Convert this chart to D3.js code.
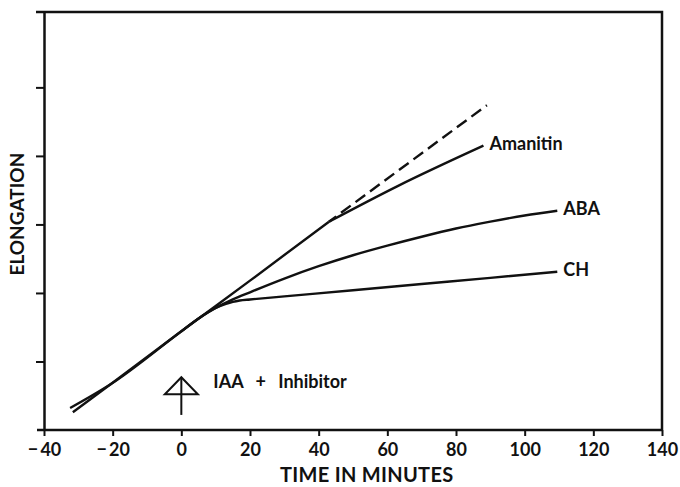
<!DOCTYPE html>
<html>
<head>
<meta charset="utf-8">
<script src="https://cdn.jsdelivr.net/npm/d3@7"></script>
<style>
  body { margin: 0; background: #fff; }
  text { font-family: Lato, "DejaVu Sans", sans-serif; font-weight: bold; fill: #111; }
</style>
</head>
<body>
<div id="chart"></div>
<script>
// Axis names
var xAxisName = "TIME IN MINUTES";
var yAxisName = "ELONGATION";

// Tick values
var xTicks = [-40, -20, 0, 20, 40, 60, 80, 100, 120, 140];
var yTicks = [0, 1, 2, 3, 4, 5];

// Control trace (straight line) and its dashed extrapolation
var controlTime = [-32.4, -20.5, 0, 20, 43];
var controlValue = [0.32, 0.67, 1.44, 2.18, 3.04];
var extrapTime = [43, 89];
var extrapValue = [3.04, 4.74];

// Second pre-treatment trace (merges with control)
var pretreatTime = [-31.6, -20.5, 0];
var pretreatValue = [0.26, 0.67, 1.44];

// Inhibitor curves
var amanitinTime = [43, 63, 88];
var amanitinValue = [3.04, 3.56, 4.15];

var abaTime = [0, 6, 10, 15, 20, 30, 40, 50, 60, 70, 80, 90, 100, 109.5];
var abaValue = [1.44, 1.66, 1.78, 1.905, 2.01, 2.21, 2.39, 2.55, 2.69, 2.82, 2.94, 3.04, 3.13, 3.20];

var chTime = [0, 6, 10, 13, 15, 17, 20, 30, 50, 70, 90, 109.5];
var chValue = [1.44, 1.66, 1.78, 1.84, 1.87, 1.89, 1.905, 1.95, 2.04, 2.13, 2.22, 2.31];

var curveNames = ["Amanitin", "ABA", "CH"];

// Treatment arrow at time 0
var arrowTime = 0;
var arrowBottom = 0.22;
var arrowTop = 0.77;
var arrowLabel = "IAA + Inhibitor";

var svgWidth = 680;
var svgHeight = 487;

var margin = {
    top: 12,
    right: 18,
    left: 44,
    bottom: 57
};

var chartWidth = svgWidth - margin.left - margin.right;
var chartHeight = svgHeight - margin.top - margin.bottom;

var svg = d3.select("#chart")
    .append("svg")
    .attr("width", svgWidth)
    .attr("height", svgHeight);

var chartCanvass = svg.append("g")
    .attr("transform", `translate(${margin.left}, ${margin.top})`);

var xScale = d3.scaleLinear()
    .domain([-40, 140])
    .range([0, chartWidth]);

var yScale = d3.scaleLinear()
    .domain([0, 6.1])
    .range([chartHeight, 0]);

// Frame (top and right edges)
chartCanvass.append("path")
    .attr("d", `M-8,0H${chartWidth}V${chartHeight}`)
    .attr("fill", "none")
    .attr("stroke", "#111")
    .attr("stroke-width", 2.5);

// x axis
var xAxis = d3.axisBottom(xScale)
    .tickValues(xTicks)
    .tickSize(6)
    .tickSizeOuter(0)
    .tickFormat(d => d < 0 ? "\u2212\u2009" + Math.abs(d) : d);

var xAxisG = chartCanvass.append("g")
    .attr("transform", `translate(0, ${chartHeight})`)
    .call(xAxis);

xAxisG.select(".domain").attr("stroke-width", 2.5).attr("stroke", "#111")
    .attr("d", `M-7,0H${chartWidth}`);
xAxisG.selectAll(".tick line").attr("stroke-width", 2).attr("stroke", "#111");
xAxisG.selectAll(".tick text")
    .attr("y", 10)
    .attr("dy", "0.9em")
    .style("font-family", "Lato, sans-serif")
    .style("font-weight", "bold")
    .style("font-size", "18px")
    .attr("fill", "#111");

// y axis, no labels
var yAxis = d3.axisLeft(yScale)
    .tickValues(yTicks.slice(1))
    .tickSize(8)
    .tickSizeOuter(0)
    .tickFormat("");

var yAxisG = chartCanvass.append("g")
    .call(yAxis);

yAxisG.select(".domain").attr("stroke-width", 2.5).attr("stroke", "#111");
yAxisG.selectAll(".tick line").attr("stroke-width", 2).attr("stroke", "#111");

// y axis label
chartCanvass.append("text")
    .attr("transform", "rotate(-90)")
    .attr("x", -(yScale(3.15)))
    .attr("y", -20)
    .style("text-anchor", "middle")
    .style("font-size", "19px")
    .text(yAxisName);

// x axis label
chartCanvass.append("text")
    .attr("x", xScale(54))
    .attr("y", chartHeight + 52)
    .style("text-anchor", "middle")
    .style("font-size", "20px")
    .style("letter-spacing", "0.3px")
    .text(xAxisName);

// Lines
var line = d3.line()
    .x(d => xScale(d[0]))
    .y(d => yScale(d[1]))
    .curve(d3.curveMonotoneX);

function pairs(t, v) {
    return t.map((d, i) => [d, v[i]]);
}

var solidSeries = [
    pairs(controlTime, controlValue),
    pairs(pretreatTime, pretreatValue),
    pairs(amanitinTime, amanitinValue),
    pairs(abaTime, abaValue),
    pairs(chTime, chValue)
];

chartCanvass.selectAll(".trace")
    .data(solidSeries)
    .enter()
    .append("path")
    .classed("trace", true)
    .attr("d", line)
    .attr("fill", "none")
    .attr("stroke", "#111")
    .attr("stroke-width", 2.4);

chartCanvass.append("path")
    .datum(pairs(extrapTime, extrapValue))
    .attr("d", line)
    .attr("fill", "none")
    .attr("stroke", "#111")
    .attr("stroke-width", 2.4)
    .attr("stroke-dasharray", "12,6")
    .attr("stroke-dashoffset", 3);

// Curve end labels
var curveEnds = [
    [amanitinTime[amanitinTime.length - 1], amanitinValue[amanitinValue.length - 1]],
    [abaTime[abaTime.length - 1], abaValue[abaValue.length - 1]],
    [chTime[chTime.length - 1], chValue[chValue.length - 1]]
];

chartCanvass.selectAll(".endLabel")
    .data(curveEnds)
    .enter()
    .append("text")
    .classed("endLabel", true)
    .attr("x", d => xScale(d[0]) + 6)
    .attr("y", d => yScale(d[1]) - 2)
    .attr("dy", "0.36em")
    .style("font-size", "18px")
    .text((d, i) => curveNames[i]);

// Treatment arrow
var ax = xScale(arrowTime);
var ayTop = yScale(arrowTop);
chartCanvass.append("line")
    .attr("x1", ax)
    .attr("x2", ax)
    .attr("y1", yScale(arrowBottom))
    .attr("y2", ayTop)
    .attr("stroke", "#111")
    .attr("stroke-width", 2);

chartCanvass.append("path")
    .attr("d", `M${ax},${ayTop}L${ax - 16.5},${ayTop + 17}H${ax + 16.5}Z`)
    .attr("fill", "none")
    .attr("stroke", "#111")
    .attr("stroke-width", 2)
    .attr("stroke-linejoin", "miter");

chartCanvass.append("text")
    .attr("x", ax + 32)
    .attr("y", ayTop + 11)
    .style("font-size", "18px")
    .style("word-spacing", "8px")
    .text(arrowLabel);
</script>
</body>
</html>
